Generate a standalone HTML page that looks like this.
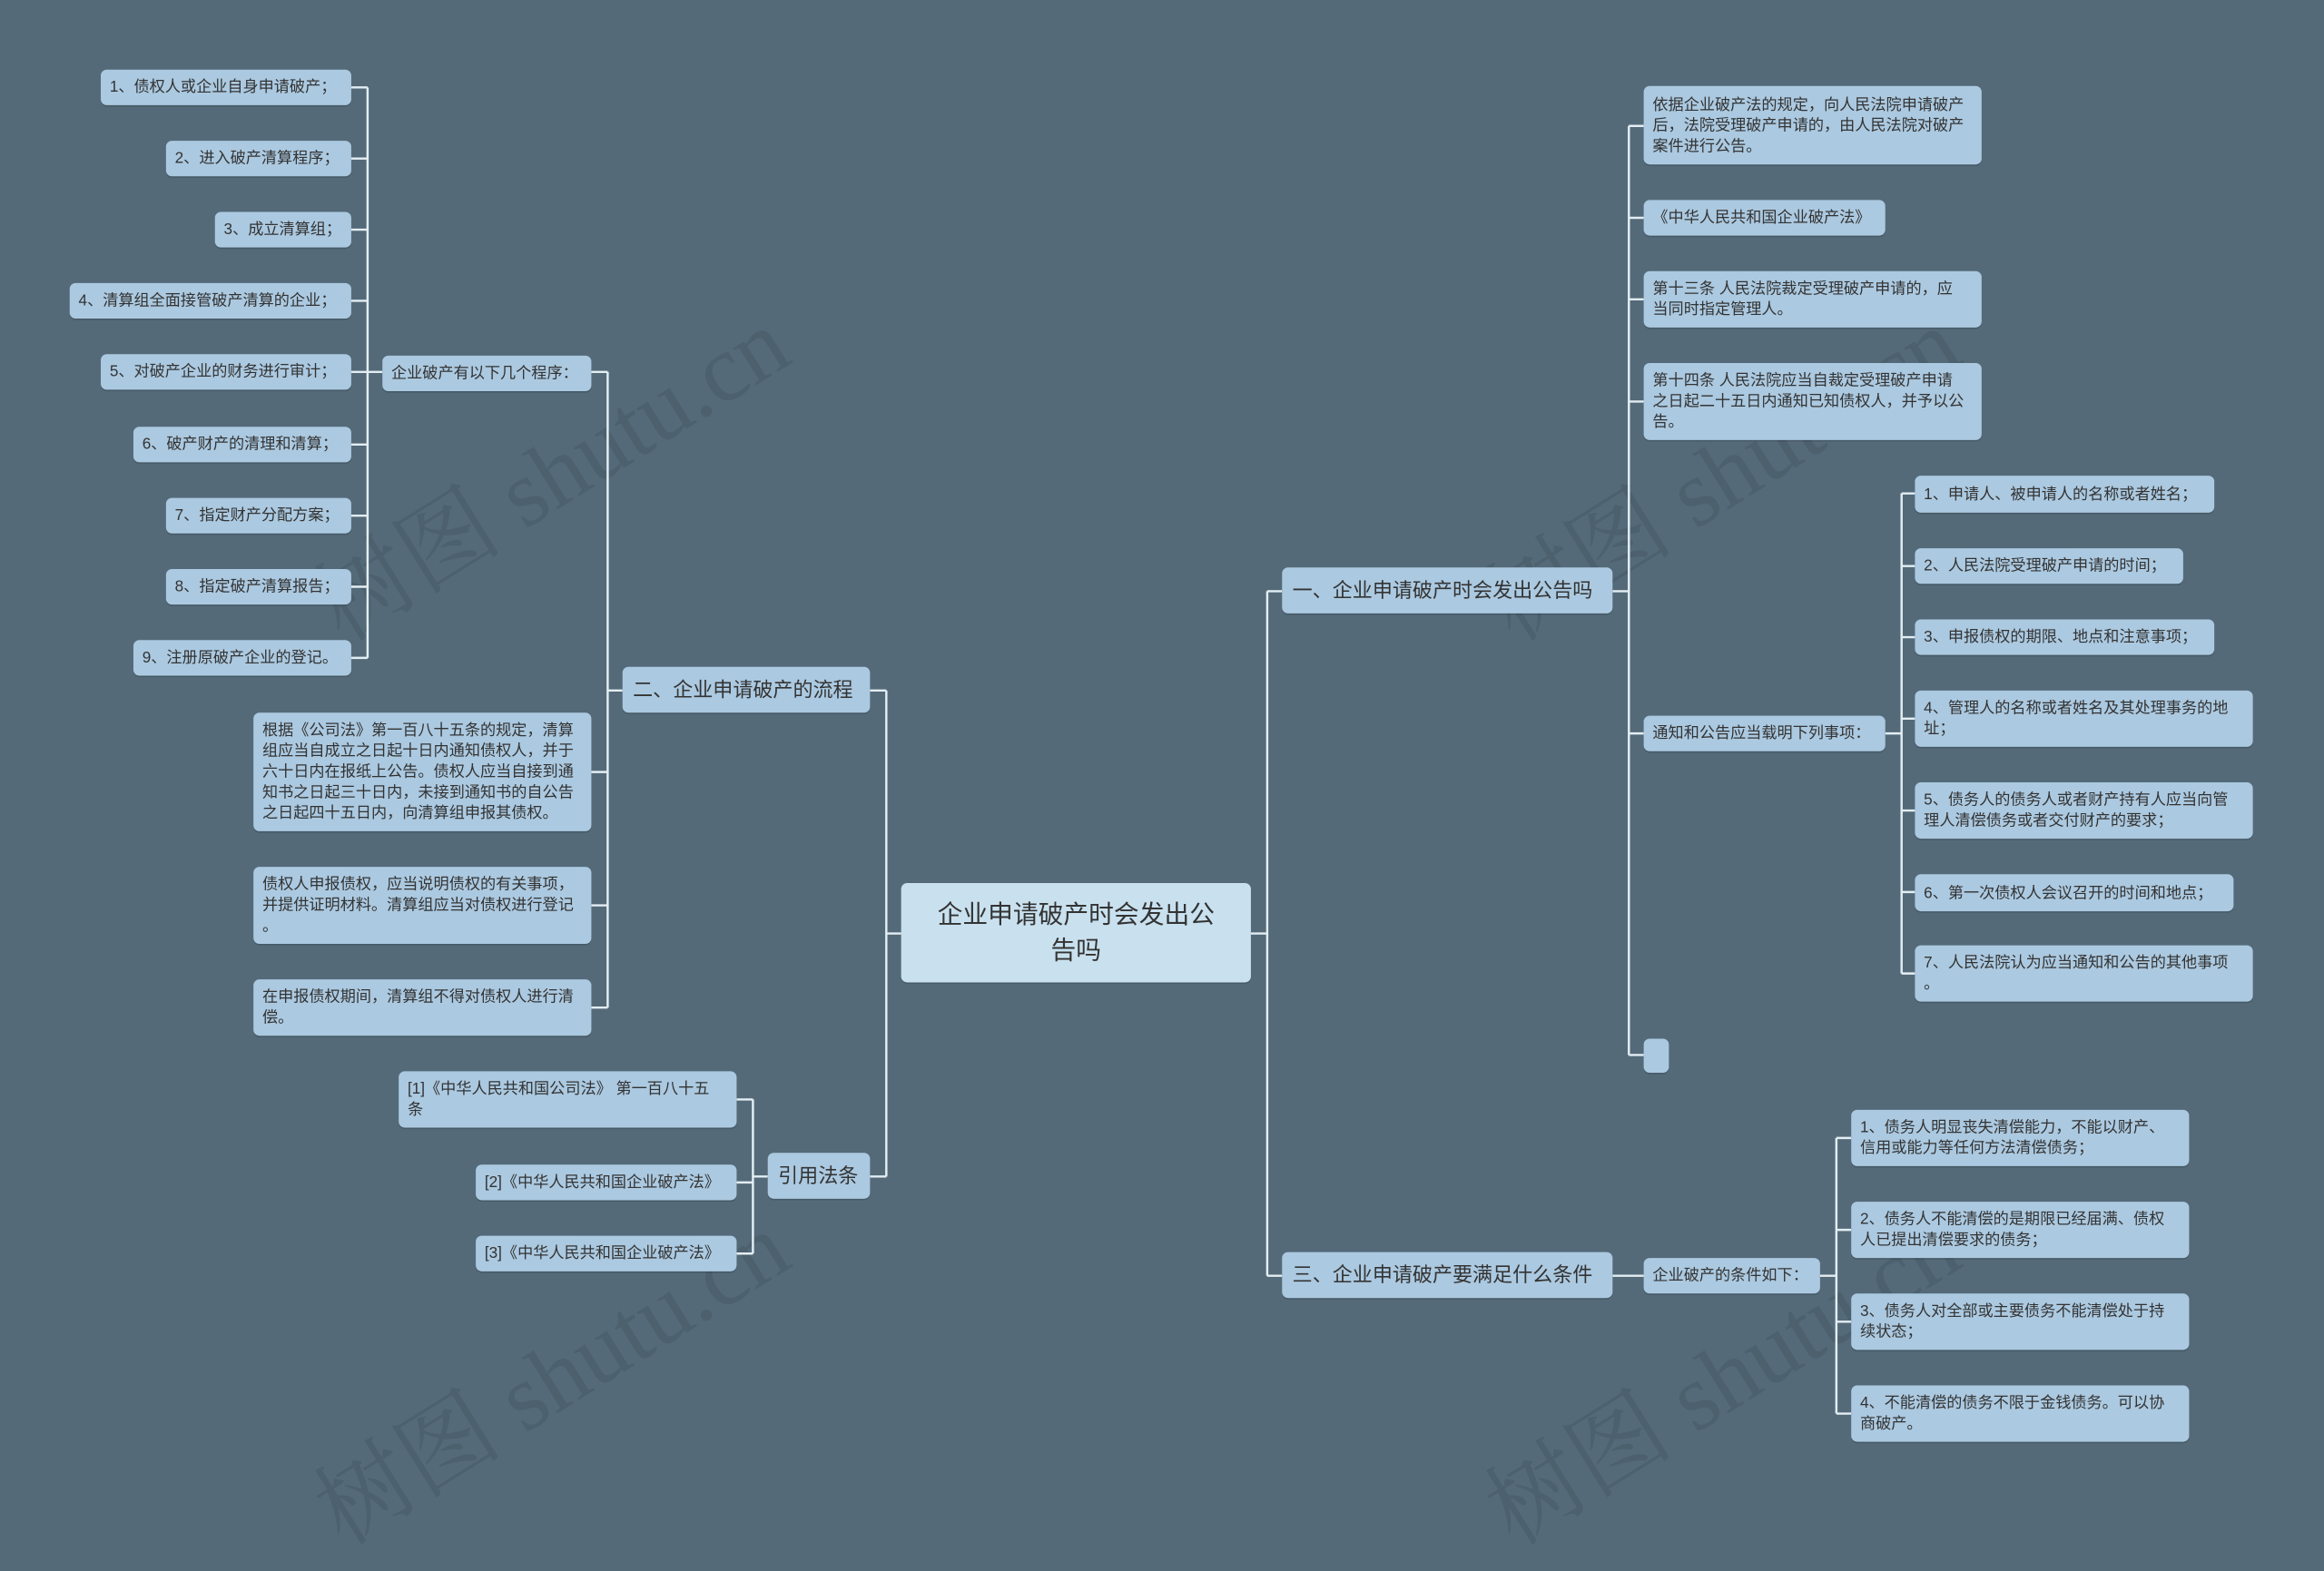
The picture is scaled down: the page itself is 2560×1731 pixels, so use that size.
<!DOCTYPE html>
<html><head><meta charset="utf-8">
<style>
html,body{margin:0;padding:0;background:#546a79;overflow:hidden}
#w{position:absolute;left:0;top:0;width:1568px;height:1021px;transform:scale(1.63265);transform-origin:0 0;font-family:"Liberation Sans","Noto Sans CJK SC",sans-serif;}
.n{position:absolute;background:#abc9e0;color:#333;border-radius:4px;box-sizing:border-box;padding:0 6px;font-size:10.5px;line-height:14px;display:flex;align-items:center;white-space:nowrap;overflow:hidden;box-shadow:0 1px 0 rgba(0,0,0,.15)}
.m{font-size:13.5px;line-height:18px;padding:0 7px}
.c{font-size:17px;line-height:24px;justify-content:center;text-align:center;background:#c9e1ef}
.wm{position:absolute;color:rgba(70,88,100,.55);font-family:"Liberation Serif","Noto Serif CJK SC",serif;font-size:64px;transform:rotate(-32deg);white-space:nowrap}
svg{position:absolute;left:0;top:0}
</style></head><body><div id="w">
<div class="wm" style="left:190px;top:270px">树图 shutu.cn</div>
<div class="wm" style="left:980px;top:270px">树图 shutu.cn</div>
<div class="wm" style="left:190px;top:880px">树图 shutu.cn</div>
<div class="wm" style="left:980px;top:880px">树图 shutu.cn</div>
<svg width="1568" height="1021" fill="none" stroke="#e3eef4" stroke-width="1.5">
<path d="M608 630H598M598 466V794M598 466H587M598 794H587"/>
<path d="M420 466H410M410 251V680M410 251H399M410 521H399M410 611H399M410 680H399"/>
<path d="M258 251H248M248 59V444"/>
<path d="M248 59H237M248 107H237M248 155H237M248 203H237M248 251H237M248 300H237M248 348H237M248 396H237M248 444H237"/>
<path d="M518 794H508M508 742V846M508 742H497M508 798H497M508 846H497"/>
<path d="M844 630H855M855 399V861M855 399H865M855 861H865"/>
<path d="M1088 399H1099M1099 85V712M1099 85H1109M1099 147H1109M1099 202H1109M1099 271H1109M1099 495H1109M1099 712H1109"/>
<path d="M1272 495H1283M1283 333V657M1283 333H1292M1283 382H1292M1283 430H1292M1283 485H1292M1283 547H1292M1283 602H1292M1283 657H1292"/>
<path d="M1088 861H1109M1228 861H1239M1239 768V954M1239 768H1249M1239 830H1249M1239 892H1249M1239 954H1249"/>
</svg>

<div class="n c" style="left:608px;top:596px;width:236px;height:67px">企业申请破产时会发出公<br>告吗</div>
<div class="n m" style="left:420px;top:450px;width:167px;height:31px">二、企业申请破产的流程</div>
<div class="n m" style="left:518px;top:778px;width:69px;height:31px">引用法条</div>
<div class="n m" style="left:865px;top:383px;width:223px;height:31px">一、企业申请破产时会发出公告吗</div>
<div class="n m" style="left:865px;top:845px;width:223px;height:31px">三、企业申请破产要满足什么条件</div>

<div class="n" style="left:258px;top:240px;width:141px;height:24px">企业破产有以下几个程序：</div>
<div class="n" style="left:171px;top:481px;width:228px;height:80px">根据《公司法》第一百八十五条的规定，清算<br>组应当自成立之日起十日内通知债权人，并于<br>六十日内在报纸上公告。债权人应当自接到通<br>知书之日起三十日内，未接到通知书的自公告<br>之日起四十五日内，向清算组申报其债权。</div>
<div class="n" style="left:171px;top:585px;width:228px;height:52px">债权人申报债权，应当说明债权的有关事项，<br>并提供证明材料。清算组应当对债权进行登记<br>。</div>
<div class="n" style="left:171px;top:661px;width:228px;height:38px">在申报债权期间，清算组不得对债权人进行清<br>偿。</div>

<div class="n" style="left:68px;top:47px;width:169px;height:24px">1、债权人或企业自身申请破产；</div>
<div class="n" style="left:112px;top:95px;width:125px;height:24px">2、进入破产清算程序；</div>
<div class="n" style="left:145px;top:143px;width:92px;height:24px">3、成立清算组；</div>
<div class="n" style="left:47px;top:191px;width:190px;height:24px">4、清算组全面接管破产清算的企业；</div>
<div class="n" style="left:68px;top:239px;width:169px;height:24px">5、对破产企业的财务进行审计；</div>
<div class="n" style="left:90px;top:288px;width:147px;height:24px">6、破产财产的清理和清算；</div>
<div class="n" style="left:112px;top:336px;width:125px;height:24px">7、指定财产分配方案；</div>
<div class="n" style="left:112px;top:384px;width:125px;height:24px">8、指定破产清算报告；</div>
<div class="n" style="left:90px;top:432px;width:147px;height:24px">9、注册原破产企业的登记。</div>

<div class="n" style="left:269px;top:723px;width:228px;height:38px">[1]《中华人民共和国公司法》 第一百八十五<br>条</div>
<div class="n" style="left:321px;top:786px;width:176px;height:24px">[2]《中华人民共和国企业破产法》</div>
<div class="n" style="left:321px;top:834px;width:176px;height:24px">[3]《中华人民共和国企业破产法》</div>

<div class="n" style="left:1109px;top:58px;width:228px;height:53px">依据企业破产法的规定，向人民法院申请破产<br>后，法院受理破产申请的，由人民法院对破产<br>案件进行公告。</div>
<div class="n" style="left:1109px;top:135px;width:163px;height:24px">《中华人民共和国企业破产法》</div>
<div class="n" style="left:1109px;top:183px;width:228px;height:38px">第十三条 人民法院裁定受理破产申请的，应<br>当同时指定管理人。</div>
<div class="n" style="left:1109px;top:245px;width:228px;height:52px">第十四条 人民法院应当自裁定受理破产申请<br>之日起二十五日内通知已知债权人，并予以公<br>告。</div>
<div class="n" style="left:1109px;top:483px;width:163px;height:24px">通知和公告应当载明下列事项：</div>
<div class="n" style="left:1109px;top:701px;width:17px;height:23px"></div>

<div class="n" style="left:1292px;top:321px;width:202px;height:25px">1、申请人、被申请人的名称或者姓名；</div>
<div class="n" style="left:1292px;top:370px;width:181px;height:24px">2、人民法院受理破产申请的时间；</div>
<div class="n" style="left:1292px;top:418px;width:202px;height:24px">3、申报债权的期限、地点和注意事项；</div>
<div class="n" style="left:1292px;top:466px;width:228px;height:38px">4、管理人的名称或者姓名及其处理事务的地<br>址；</div>
<div class="n" style="left:1292px;top:528px;width:228px;height:38px">5、债务人的债务人或者财产持有人应当向管<br>理人清偿债务或者交付财产的要求；</div>
<div class="n" style="left:1292px;top:590px;width:215px;height:25px">6、第一次债权人会议召开的时间和地点；</div>
<div class="n" style="left:1292px;top:638px;width:228px;height:38px">7、人民法院认为应当通知和公告的其他事项<br>。</div>

<div class="n" style="left:1109px;top:849px;width:119px;height:24px">企业破产的条件如下：</div>
<div class="n" style="left:1249px;top:749px;width:228px;height:38px">1、债务人明显丧失清偿能力，不能以财产、<br>信用或能力等任何方法清偿债务；</div>
<div class="n" style="left:1249px;top:811px;width:228px;height:38px">2、债务人不能清偿的是期限已经届满、债权<br>人已提出清偿要求的债务；</div>
<div class="n" style="left:1249px;top:873px;width:228px;height:38px">3、债务人对全部或主要债务不能清偿处于持<br>续状态；</div>
<div class="n" style="left:1249px;top:935px;width:228px;height:38px">4、不能清偿的债务不限于金钱债务。可以协<br>商破产。</div>
</div></body></html>
